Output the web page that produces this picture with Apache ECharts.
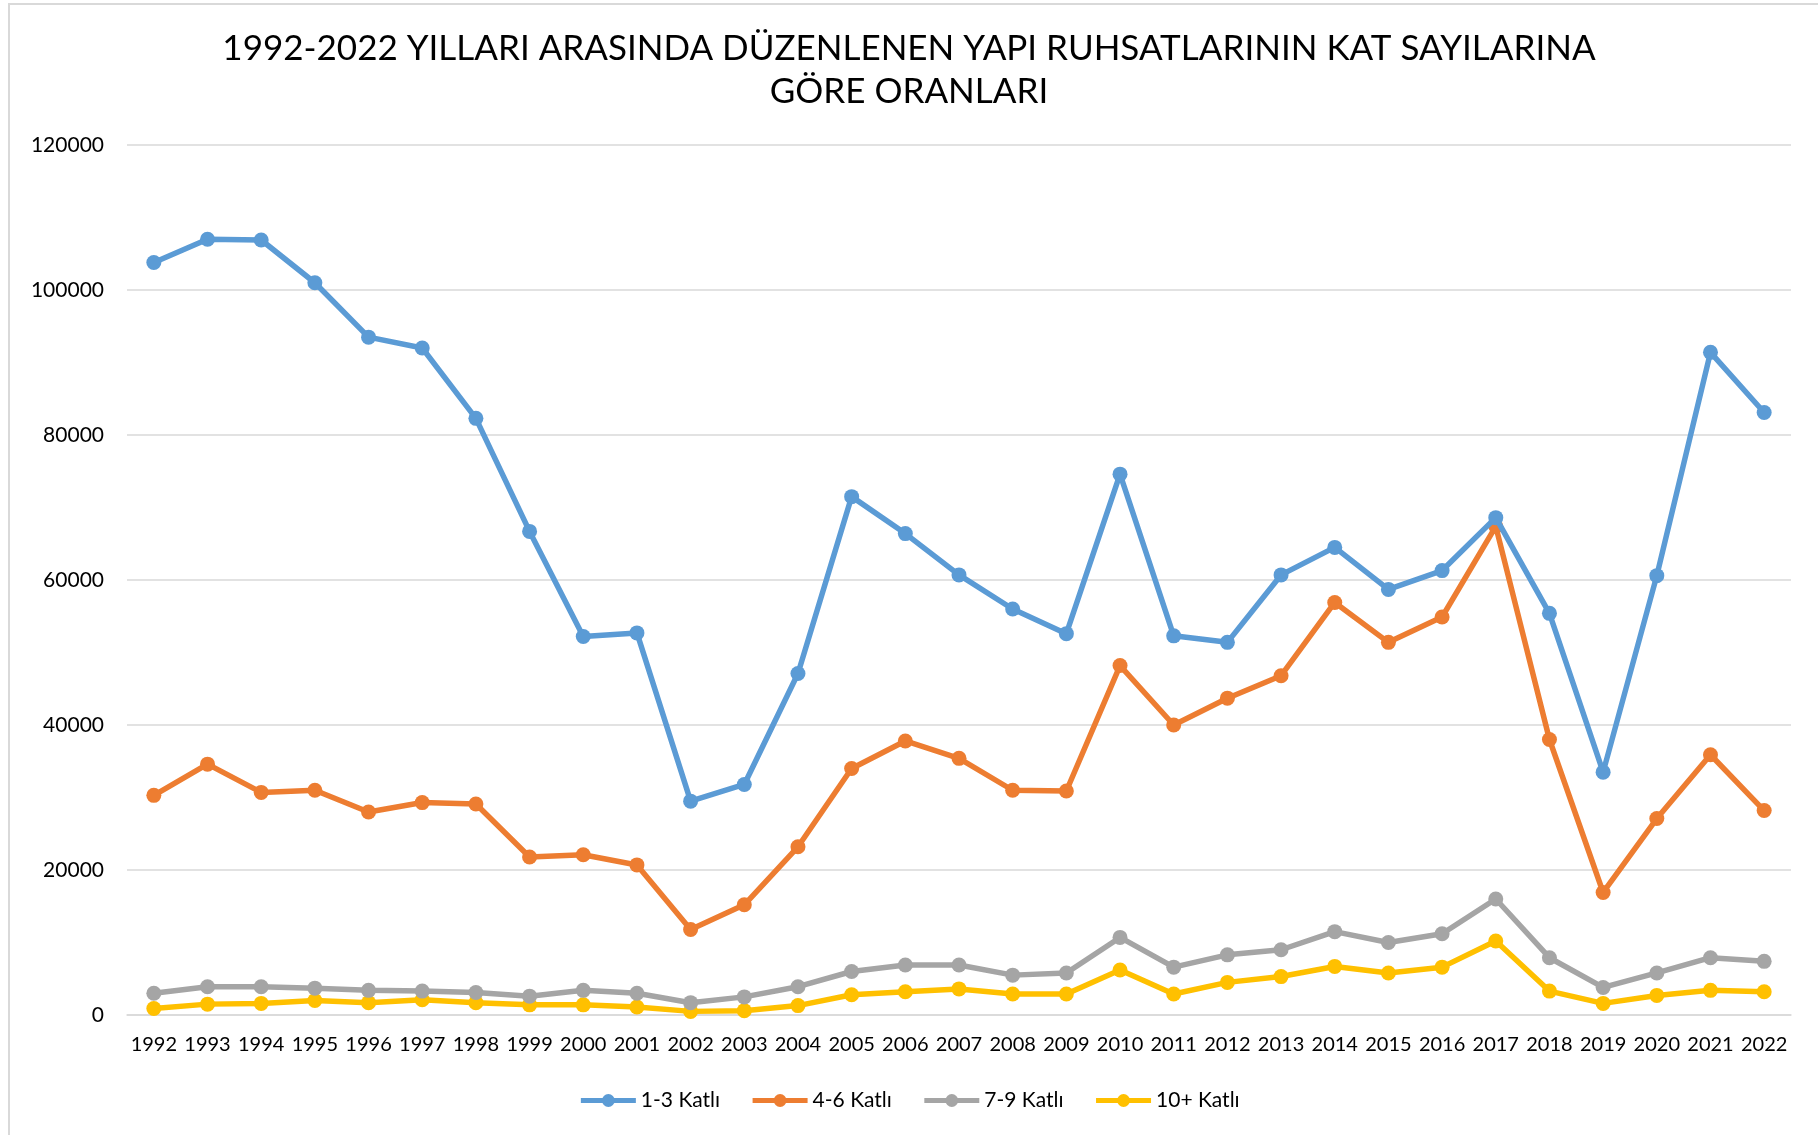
<!DOCTYPE html>
<html>
<head>
<meta charset="utf-8">
<script src="https://cdn.jsdelivr.net/npm/echarts@6/dist/echarts.min.js"></script>
<style>
  html, body { margin: 0; padding: 0; background: #fff; }
  #frame {
    position: absolute; left: 8px; top: 3px; width: 1810px; height: 1132px;
    border-top: 2px solid #d9d9d9; border-left: 2px solid #d9d9d9;
  }
  #chart { position: absolute; left: 0; top: 0; width: 1818px; height: 1135px; }
</style>
</head>
<body>
<div id="frame"></div>
<div id="chart"></div>
<script>
// years on the x axis
const years = ['1992', '1993', '1994', '1995', '1996', '1997', '1998', '1999', '2000', '2001',
  '2002', '2003', '2004', '2005', '2006', '2007', '2008', '2009', '2010', '2011',
  '2012', '2013', '2014', '2015', '2016', '2017', '2018', '2019', '2020', '2021', '2022']

// 1-3 katli
const kat1to3 = [103800, 107000, 106900, 101000, 93500, 92000, 82300, 66700, 52200, 52700,
  29500, 31800, 47100, 71500, 66400, 60700, 56000, 52600, 74600, 52300,
  51400, 60700, 64500, 58700, 61300, 68600, 55400, 33500, 60600, 91400, 83100]

// 4-6 katli
const kat4to6 = [30300, 34600, 30700, 31000, 28000, 29300, 29100, 21800, 22100, 20700,
  11800, 15200, 23200, 34000, 37800, 35400, 31000, 30900, 48200, 40000,
  43700, 46800, 56900, 51400, 54900, 67400, 38000, 16900, 27100, 35900, 28200]

// 7-9 katli
const kat7to9 = [3000, 3900, 3900, 3700, 3400, 3300, 3100, 2600, 3400, 3000,
  1700, 2500, 3900, 6000, 6900, 6900, 5500, 5800, 10700, 6600,
  8300, 9000, 11500, 10000, 11200, 16000, 7900, 3800, 5800, 7900, 7400]

// 10+ katli
const kat10plus = [900, 1500, 1600, 2000, 1700, 2100, 1700, 1400, 1400, 1100,
  500, 600, 1300, 2800, 3200, 3600, 2900, 2900, 6200, 2900,
  4500, 5300, 6700, 5800, 6600, 10200, 3300, 1600, 2700, 3400, 3200]

const seriesNames = ['1-3 Katlı', '4-6 Katlı', '7-9 Katlı', '10+ Katlı']
const seriesColors = ['#5b9bd5', '#ed7d31', '#a5a5a5', '#ffc000']
const seriesData = [kat1to3, kat4to6, kat7to9, kat10plus]

const font = 'Lato, "Open Sans", sans-serif'

const chart = echarts.init(document.getElementById('chart'), null, { renderer: 'canvas' })

chart.setOption({
  animation: false,
  backgroundColor: 'transparent',
  title: {
    text: '1992-2022 YILLARI ARASINDA DÜZENLENEN YAPI RUHSATLARININ KAT SAYILARINA\nGÖRE ORANLARI',
    left: 'center',
    top: 22,
    textStyle: { fontFamily: font, fontSize: 35, fontWeight: 'normal', color: '#000', lineHeight: 43 },
  },
  grid: { left: 127, right: 27, top: 145, bottom: 120, containLabel: false },
  legend: {
    data: seriesNames,
    left: 'center',
    top: 1085,
    itemWidth: 55,
    itemHeight: 16,
    itemGap: 30,
    lineStyle: { width: 5 },
    textStyle: { fontFamily: font, fontSize: 21, color: '#000' },
  },
  xAxis: {
    type: 'category',
    data: years,
    boundaryGap: true,
    axisLine: { lineStyle: { color: '#d9d9d9', width: 1.5 } },
    axisTick: { show: false },
    axisLabel: { fontFamily: font, fontSize: 20, color: '#000', margin: 20, interval: 0 },
  },
  yAxis: {
    type: 'value',
    min: 0,
    max: 120000,
    interval: 20000,
    axisLine: { show: false },
    axisTick: { show: false },
    axisLabel: { fontFamily: font, fontSize: 21, color: '#000', margin: 23, formatter: v => String(v) },
    splitLine: { lineStyle: { color: '#d9d9d9', width: 1.5 } },
  },
  series: seriesNames.map((name, i) => ({
    name,
    type: 'line',
    data: seriesData[i],
    symbol: 'circle',
    symbolSize: 15,
    lineStyle: { color: seriesColors[i], width: 5.5 },
    itemStyle: { color: seriesColors[i] },
    z: 10 - i,
  })),
})
</script>
</body>
</html>
